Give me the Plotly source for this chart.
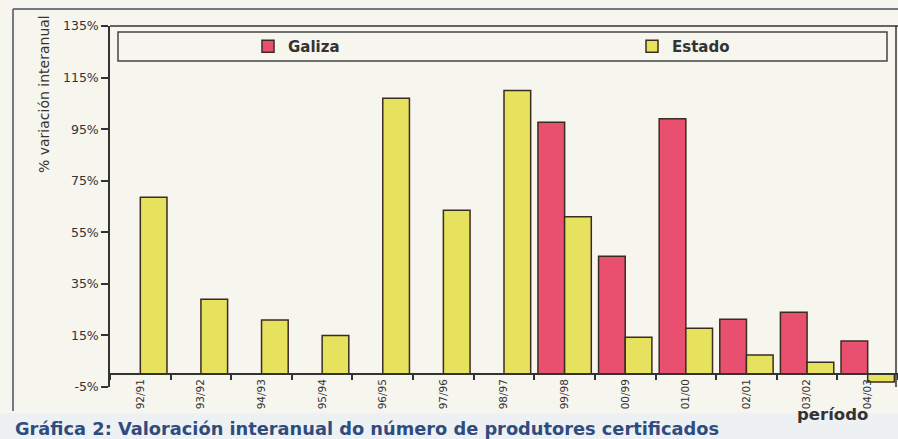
import plotly.graph_objects as go

periods = ["92/91", "93/92", "94/93", "95/94", "96/95", "97/96", "98/97",
           "99/98", "00/99", "01/00", "02/01", "03/02", "04/03"]
galiza = [None, None, None, None, None, None, None,
          97.7, 45.7, 99.0, 21.3, 24.0, 12.8]
estado = [68.6, 29.0, 21.0, 15.0, 107.0, 63.5, 110.0,
          61.0, 14.3, 17.8, 7.4, 4.6, -3.1]
y_ticks = [-5, 15, 35, 55, 75, 95, 115, 135]

W, H = 898, 439
ML, MR, MT, MB = 110, 0, 26, 52
PW, PH = W - ML - MR, H - MT - MB


def px(x):
    return (x - ML) / PW


def py(y):
    return (H - MB - y) / PH


BG = "#f6f5ee"
EDGE = "#3b2c22"

fig = go.Figure()
fig.add_trace(go.Bar(x=periods, y=galiza, name="Galiza", legend="legend",
                     showlegend=True,
                     marker=dict(color="#e9506f", line=dict(color=EDGE, width=1.5))))
fig.add_trace(go.Bar(x=periods, y=estado, name="Estado", legend="legend2",
                     showlegend=True,
                     marker=dict(color="#e6e25e", line=dict(color=EDGE, width=1.5))))

ymin, ymax = y_ticks[0], y_ticks[-1]
legend_font = dict(family="DejaVu Sans", size=15, color="#333", weight="bold")

fig.update_layout(
    width=W, height=H,
    margin=dict(l=ML, r=MR, t=MT, b=MB),
    paper_bgcolor=BG, plot_bgcolor=BG,
    barmode="group", bargap=0.12, bargroupgap=0,
    showlegend=True,
    font=dict(family="DejaVu Sans", color="#333"),
    xaxis=dict(
        anchor="free", position=(0 - ymin) / (ymax - ymin),
        range=[-0.5, len(periods) - 0.5],
        showline=True, linecolor="#333", linewidth=1.5,
        ticks="outside", tickson="boundaries", ticklen=5, tickcolor="#333",
        tickwidth=1.5, tickangle=-90, showgrid=False,
        tickfont=dict(family="DejaVu Sans", size=10.5, color="#333"),
    ),
    yaxis=dict(
        range=[ymin, ymax], tickvals=y_ticks,
        ticktext=[f"{v}%" for v in y_ticks],
        showline=True, linecolor="#333", linewidth=1.5,
        ticks="outside", ticklen=7, tickcolor="#333", tickwidth=1.5,
        showgrid=False, zeroline=False,
        tickfont=dict(family="DejaVu Sans", size=12.5, color="#333"),
    ),
    legend=dict(orientation="h", x=px(248), y=py(46.5), xanchor="left",
                yanchor="middle", bgcolor="rgba(0,0,0,0)", visible=True,
                font=legend_font),
    legend2=dict(orientation="h", x=px(632), y=py(46.5), xanchor="left",
                 yanchor="middle", bgcolor="rgba(0,0,0,0)", visible=True,
                 font=legend_font),
    shapes=[
        # caption band
        dict(type="rect", xref="paper", yref="paper", x0=px(0), x1=px(W),
             y0=py(H), y1=py(413), fillcolor="#eef1f3", line=dict(width=0),
             layer="below"),
        # outer frame
        dict(type="line", xref="paper", yref="paper", x0=px(13), x1=px(13),
             y0=py(9), y1=py(411), line=dict(color="#4a4f63", width=1.5)),
        dict(type="line", xref="paper", yref="paper", x0=px(13), x1=px(W),
             y0=py(9), y1=py(9), line=dict(color="#4a4f63", width=1.5)),
        # plot box top and right
        dict(type="line", xref="paper", yref="paper", x0=0, x1=1, y0=1, y1=1,
             line=dict(color="#333", width=1.5)),
        dict(type="line", xref="paper", yref="paper", x0=px(896), x1=px(896),
             y0=0, y1=1, line=dict(color="#333", width=1.5)),
        # legend box
        dict(type="rect", xref="paper", yref="paper", x0=px(118), x1=px(887),
             y0=py(61), y1=py(32), line=dict(color="#444", width=1.5),
             fillcolor="rgba(0,0,0,0)"),
    ],
    annotations=[
        dict(text="% variación interanual", xref="paper", yref="paper",
             x=px(44), y=py(94), textangle=-90, showarrow=False,
             xanchor="center", yanchor="middle",
             font=dict(family="DejaVu Sans", size=14, color="#333")),
        dict(text="<b>período</b>", xref="paper", yref="paper",
             x=px(832), y=py(414), showarrow=False, xanchor="center",
             yanchor="middle",
             font=dict(family="DejaVu Sans", size=16.5, color="#333")),
        dict(text="<b>Gráfica 2: Valoración interanual do número de produtores certificados</b>",
             xref="paper", yref="paper", x=px(13), y=py(428), showarrow=False,
             xanchor="left", yanchor="middle",
             font=dict(family="DejaVu Sans", size=17.8, color="#2f4c7f")),
    ],
)

fig.write_html("out.html", config={"displayModeBar": False})

with open("out.html", encoding="utf-8") as f:
    html = f.read()
html = html.replace("<head>", "<head><style>html,body{margin:0;padding:0;overflow:hidden;}</style>", 1)
with open("out.html", "w", encoding="utf-8") as f:
    f.write(html)
